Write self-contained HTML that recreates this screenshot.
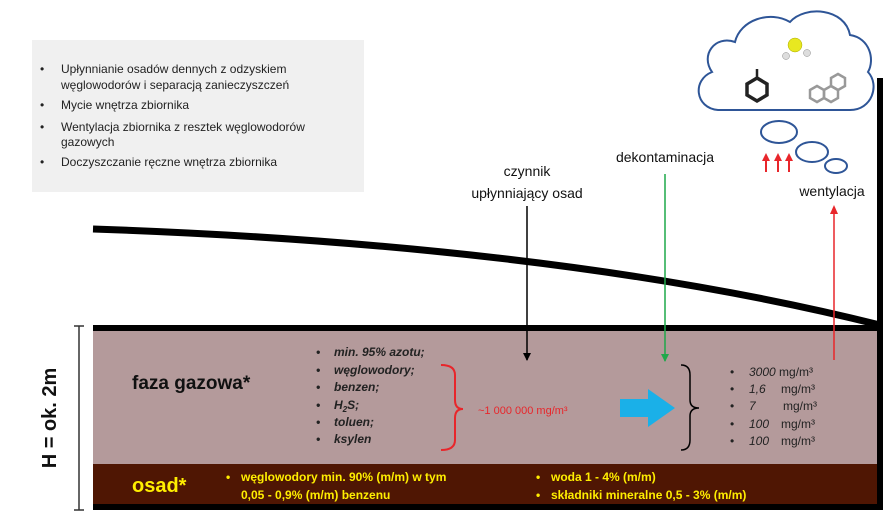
<!DOCTYPE html>
<html><head><meta charset="utf-8"><style>
body{margin:0;background:#fff;}
svg{display:block;font-family:"Liberation Sans",sans-serif;}
</style></head><body>
<svg width="886" height="526" viewBox="0 0 886 526" xmlns="http://www.w3.org/2000/svg">
<defs>
<marker id="ab" markerWidth="8" markerHeight="8" refX="7" refY="4" orient="auto" markerUnits="userSpaceOnUse"><path d="M0,0 L8,4 L0,8 z" fill="#000"/></marker>
<marker id="ag" markerWidth="8" markerHeight="8" refX="7" refY="4" orient="auto" markerUnits="userSpaceOnUse"><path d="M0,0 L8,4 L0,8 z" fill="#1fa84a"/></marker>
</defs>
<rect x="32" y="40" width="332" height="152" fill="#f0f0f0"/>
<g font-size="12" fill="#222">
<text x="40" y="73">•</text><text x="61" y="73">Upłynnianie osadów dennych z odzyskiem</text>
<text x="61" y="89">węglowodorów i separacją zanieczyszczeń</text>
<text x="40" y="109">•</text><text x="61" y="109">Mycie wnętrza zbiornika</text>
<text x="40" y="131">•</text><text x="61" y="131">Wentylacja zbiornika z resztek węglowodorów</text>
<text x="61" y="146">gazowych</text>
<text x="40" y="166">•</text><text x="61" y="166">Doczyszczanie ręczne wnętrza zbiornika</text>
</g>
<path d="M93,229 Q560,245 880,325" stroke="#000" stroke-width="7" fill="none"/>
<rect x="93" y="331" width="787" height="133" fill="#b49a9b"/>
<rect x="93" y="464" width="787" height="40" fill="#4f1603"/>
<rect x="93" y="325" width="787" height="6" fill="#000"/>
<rect x="93" y="504" width="787" height="6" fill="#000"/>
<rect x="877" y="78" width="6" height="432" fill="#000"/>
<line x1="79" y1="326" x2="79" y2="510" stroke="#333" stroke-width="1.5"/>
<line x1="74" y1="326" x2="84" y2="326" stroke="#333" stroke-width="1.5"/>
<line x1="74" y1="510" x2="84" y2="510" stroke="#333" stroke-width="1.5"/>
<text transform="translate(56,418) rotate(-90)" text-anchor="middle" font-size="20" font-weight="bold" fill="#111">H = ok. 2m</text>
<text x="132" y="389" font-size="19" font-weight="bold" fill="#111">faza gazowa*</text>
<text x="132" y="492" font-size="20" font-weight="bold" fill="#ffee00">osad*</text>
<g font-size="12" font-style="italic" font-weight="bold" fill="#222">
<text x="316" y="356">•</text><text x="334" y="356">min. 95% azotu;</text>
<text x="316" y="374">•</text><text x="334" y="374">węglowodory;</text>
<text x="316" y="391">•</text><text x="334" y="391">benzen;</text>
<text x="316" y="409">•</text><text x="334" y="409">H<tspan font-size="8" dy="3">2</tspan><tspan dy="-3">S;</tspan></text>
<text x="316" y="426">•</text><text x="334" y="426">toluen;</text>
<text x="316" y="443">•</text><text x="334" y="443">ksylen</text>
</g>
<path d="M441,365 Q455,365 455,375 L455,400 Q455,409 463,409 Q455,409 455,418 L455,440 Q455,450 441,450" stroke="#e8262b" stroke-width="2" fill="none"/>
<text x="478" y="414" font-size="11" fill="#e8262b">~1 000 000 mg/m³</text>
<path d="M620,399 L648,399 L648,389 L675,408 L648,427 L648,417 L620,417 z" fill="#1ab0e8"/>
<path d="M681,365 Q690,365 690,375 L690,400 Q690,408 699,408 Q690,408 690,416 L690,440 Q690,450 681,450" stroke="#000" stroke-width="1.5" fill="none"/>
<g font-size="12" fill="#222">
<text x="730" y="376">•</text><text x="749" y="376"><tspan font-style="italic">3000</tspan> mg/m³</text>
<text x="730" y="393">•</text><text x="749" y="393"><tspan font-style="italic">1,6</tspan></text><text x="781" y="393">mg/m³</text>
<text x="730" y="410">•</text><text x="749" y="410"><tspan font-style="italic">7</tspan></text><text x="783" y="410">mg/m³</text>
<text x="730" y="428">•</text><text x="749" y="428"><tspan font-style="italic">100</tspan></text><text x="781" y="428">mg/m³</text>
<text x="730" y="445">•</text><text x="749" y="445"><tspan font-style="italic">100</tspan></text><text x="781" y="445">mg/m³</text>
</g>
<g font-size="12" font-weight="bold" fill="#ffee00">
<text x="226" y="481">•</text><text x="241" y="481">węglowodory min. 90% (m/m) w tym</text>
<text x="241" y="499">0,05 - 0,9% (m/m) benzenu</text>
<text x="536" y="481">•</text><text x="551" y="481">woda 1 - 4% (m/m)</text>
<text x="536" y="499">•</text><text x="551" y="499">składniki mineralne 0,5 - 3% (m/m)</text>
</g>
<text x="527" y="176" font-size="14" text-anchor="middle" fill="#111">czynnik</text>
<text x="527" y="198" font-size="14" text-anchor="middle" fill="#111">upłynniający osad</text>
<line x1="527" y1="206" x2="527" y2="360" stroke="#000" stroke-width="1.5" marker-end="url(#ab)"/>
<text x="665" y="162" font-size="14" text-anchor="middle" fill="#111">dekontaminacja</text>
<line x1="665" y1="174" x2="665" y2="361" stroke="#1fa84a" stroke-width="1.5" marker-end="url(#ag)"/>
<text x="832" y="196" font-size="14" text-anchor="middle" fill="#111">wentylacja</text>
<line x1="834" y1="360" x2="834" y2="212" stroke="#e8262b" stroke-width="1.5"/>
<path d="M830,214 L834,205 L838,214 z" fill="#e8262b"/>
<path d="M718,110 C695,108 692,80 712,72 C700,55 715,35 735,42 C740,20 770,10 790,22 C805,5 845,8 850,35 C870,38 875,60 868,72 C880,85 872,110 850,110 Z" fill="#fff" stroke="#2e5597" stroke-width="2"/>
<ellipse cx="779" cy="132" rx="18" ry="11" fill="none" stroke="#2e5597" stroke-width="2"/>
<ellipse cx="812" cy="152" rx="16" ry="10" fill="none" stroke="#2e5597" stroke-width="2"/>
<ellipse cx="836" cy="166" rx="11" ry="7" fill="none" stroke="#2e5597" stroke-width="2"/>
<circle cx="795" cy="45" r="7" fill="#e8e820" stroke="#aa0" stroke-width="0.5"/>
<circle cx="786" cy="56" r="3.5" fill="#ddd" stroke="#888" stroke-width="0.5"/>
<circle cx="807" cy="53" r="3.5" fill="#ddd" stroke="#888" stroke-width="0.5"/>
<polygon points="757,78 767,84 767,95 757,101 747,95 747,84" fill="none" stroke="#222" stroke-width="3.5"/>
<line x1="757" y1="78" x2="757" y2="69" stroke="#222" stroke-width="2.5"/>
<g fill="none" stroke="#999" stroke-width="2.5">
<polygon points="810,90 817,86 824,90 824,98 817,102 810,98"/>
<polygon points="824,90 831,86 838,90 838,98 831,102 824,98"/>
<polygon points="831,78 838,74 845,78 845,86 838,90 831,86"/>
</g>
<g stroke="#e8262b" stroke-width="2">
<line x1="766" y1="172" x2="766" y2="160"/><line x1="778" y1="172" x2="778" y2="160"/><line x1="789" y1="172" x2="789" y2="160"/>
</g>
<g fill="#e8262b">
<path d="M762,161 L766,153 L770,161z"/><path d="M774,161 L778,153 L782,161z"/><path d="M785,161 L789,153 L793,161z"/>
</g>
</svg>
</body></html>
